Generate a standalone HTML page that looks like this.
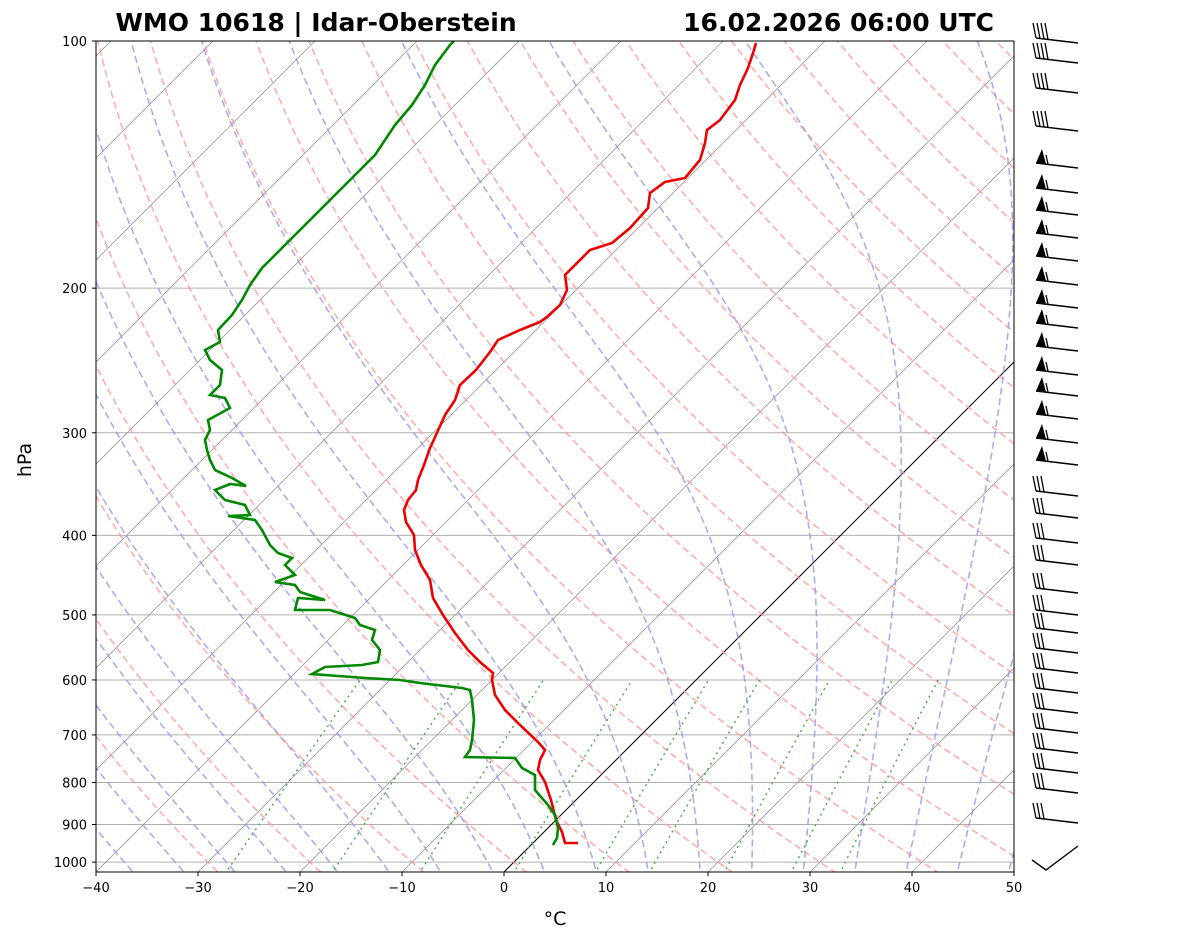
<!DOCTYPE html>
<html><head><meta charset="utf-8">
<style>
html,body{margin:0;padding:0;background:#fff;}
svg{display:block;font-family:"DejaVu Sans","Liberation Sans",sans-serif;}
</style></head>
<body>
<svg id="s" width="1181" height="941" xmlns="http://www.w3.org/2000/svg">
<defs><clipPath id="c"><rect x="96" y="41" width="918" height="831"/></clipPath></defs>
<g id="bg" clip-path="url(#c)"></g>
<g id="fg"></g>
</svg>
<script>
var L=96,R=1014,T=41,B=872;
function yP(p){return 41+356.6*Math.log(p/100);}
function xT(t,p){return 96+(t+40)*10.2+(B-yP(p));}
var bg=document.getElementById('bg'),fg=document.getElementById('fg');
var ns='http://www.w3.org/2000/svg';
function el(par,tag,a,txt){var e=document.createElementNS(ns,tag);for(var k in a)e.setAttribute(k,a[k]);if(txt!==undefined)e.textContent=txt;par.appendChild(e);return e;}
function poly(par,pts,st){el(par,'polyline',Object.assign({points:pts.map(function(q){return q[0].toFixed(1)+','+q[1].toFixed(1)}).join(' '),fill:'none'},st));}
var ps=[];for(var p=1050;p>=100;p-=5)ps.push(p);
[100,200,300,400,500,600,700,800,900,1000].forEach(function(p){el(bg,'line',{x1:L,x2:R,y1:yP(p),y2:yP(p),stroke:'#b0b0b0','stroke-width':1});});
for(var t=-140;t<=50;t+=10){poly(bg,[[xT(t,1050),yP(1050)],[xT(t,100),yP(100)]],{stroke:t==0?'#000':'#999','stroke-width':t==0?1:0.8});}
for(var th=-30;th<=200;th+=10){var pts=ps.map(function(p){var tk=(th+273.15)*Math.pow(p/1000,0.2857)-273.15;return [xT(tk,p),yP(p)];});poly(bg,pts,{stroke:'#ff9a9a','stroke-width':1.6,'stroke-dasharray':'7,4','opacity':0.8});}
function es(t){return 6.112*Math.exp(17.67*t/(t+243.5));}
for(var t0=-40;t0<=50;t0+=5){var t=t0,pts=[],p=1050,dp=-2;while(p>=100){pts.push([xT(t,p),yP(p)]);var tk=t+273.15,rs=0.622*es(t)/(p-es(t));var dTdp=(287*tk+2.5e6*rs)/(1004+2.5e6*2.5e6*rs*0.622/(287*tk*tk))/p;t+=dTdp*dp;p+=dp;}poly(bg,pts,{stroke:'#8f8ff5','stroke-width':1.6,'stroke-dasharray':'7,4','opacity':0.75});}
[0.0004,0.001,0.002,0.004,0.007,0.01,0.016,0.024,0.032].forEach(function(w){var pts=[];for(var p=1050;p>=600;p-=10){var e=w*p/(0.622+w),a=Math.log(e/6.112),td=243.5*a/(17.67-a);pts.push([xT(td,p),yP(p)]);}poly(bg,pts,{stroke:'#4caf50','stroke-width':1.5,'stroke-dasharray':'2,4'});});
var Tp=[[578,843],[565,843],[562,832],[556,820],[551,800],[545,782],[538,770],[540,760],[545,750],[538,742],[520,725],[505,710],[495,695],[492,680],[493,673],[480,662],[468,650],[455,633],[443,615],[433,598],[430,580],[421,565],[415,550],[414,535],[406,522],[404,510],[408,500],[416,490],[418,480],[424,465],[430,448],[436,435],[445,415],[455,400],[460,385],[476,370],[490,352],[498,340],[520,330],[540,322],[548,316],[560,305],[567,290],[565,275],[590,250],[612,243],[630,228],[648,208],[650,193],[665,182],[685,178],[700,160],[705,143],[707,130],[720,120],[735,100],[740,85],[748,68],[754,50],[756,43]];
poly(bg,Tp,{stroke:'#e00',"stroke-width":2.6});
var Dp=[[553,845],[557,838],[558,828],[555,815],[548,805],[535,790],[535,775],[522,768],[515,758],[465,757],[470,750],[472,740],[474,720],[472,700],[470,690],[462,688],[420,683],[400,680],[365,678],[312,674],[325,667],[362,665],[378,662],[380,650],[372,640],[375,630],[360,625],[355,618],[330,610],[295,610],[298,598],[325,600],[300,592],[295,585],[275,582],[295,575],[285,565],[292,558],[278,553],[270,545],[262,530],[255,520],[228,516],[250,515],[245,505],[225,500],[215,490],[230,484],[246,486],[232,478],[215,470],[210,460],[207,450],[205,440],[210,430],[208,420],[230,408],[225,398],[210,395],[220,385],[222,370],[210,360],[205,350],[220,342],[218,330],[232,315],[242,300],[250,285],[262,268],[275,255],[290,240],[310,220],[330,200],[345,185],[360,170],[375,155],[385,140],[395,125],[412,105],[425,85],[435,65],[450,45],[454,41]];
poly(bg,Dp,{stroke:'#080',"stroke-width":2.6});
el(fg,'rect',{x:L,y:T,width:R-L,height:B-T,fill:'none',stroke:'#000','stroke-width':1});
[100,200,300,400,500,600,700,800,900,1000].forEach(function(p){var y=yP(p);el(fg,'line',{x1:L-4,x2:L,y1:y,y2:y,stroke:'#000'});el(fg,'text',{x:L-9,y:y+5,'text-anchor':'end','font-size':13},p);});
for(var t=-40;t<=50;t+=10){var x=96+(t+40)*10.2;el(fg,'line',{x1:x,x2:x,y1:B,y2:B+4,stroke:'#000'});el(fg,'text',{x:x,y:B+20,'text-anchor':'middle','font-size':13},(t<0?'\u2212'+(-t):t));}
el(fg,'text',{x:555,y:925,'text-anchor':'middle','font-size':19},'°C');
el(fg,'text',{x:31,y:460,'text-anchor':'middle','font-size':19,transform:'rotate(-90 31 460)'},'hPa');
el(fg,'text',{x:316,y:31,'text-anchor':'middle','font-size':25,'font-weight':'bold'},'WMO 10618 | Idar-Oberstein');
el(fg,'text',{x:994,y:31,'text-anchor':'end','font-size':25,'font-weight':'bold'},'16.02.2026 06:00 UTC');
var ys=[40,60,90,128,165,190,212,235,258,282,305,325,348,372,393,416,440,462,493,515,540,562,590,612,630,650,670,690,710,730,750,770,790,820];
ys.forEach(function(y,i){var x0=1036,x1=1078,dy=5;el(fg,'line',{x1:x0,y1:y-2,x2:x1,y2:y+dy-2,stroke:'#000','stroke-width':1.4});
 if(y>140&&y<470){el(fg,'polygon',{points:(x0)+','+(y-2)+' '+(x0+10)+','+(y-1)+' '+(x0+6)+','+(y-16),fill:'#000'});el(fg,'line',{x1:x0+12,y1:y-1,x2:x0+10,y2:y-10,stroke:'#000','stroke-width':1.3});}
 else{var n=(y<140)?4:3;for(var k=0;k<n;k++){var xs=x0+k*4;el(fg,'line',{x1:xs,y1:y-2+k*0.5,x2:xs-3,y2:y-17,stroke:'#000','stroke-width':1.3});}}});
el(fg,'polyline',{points:'1032,860 1046,870 1078,846',fill:'none',stroke:'#000','stroke-width':1.4});
</script>
</body></html>
